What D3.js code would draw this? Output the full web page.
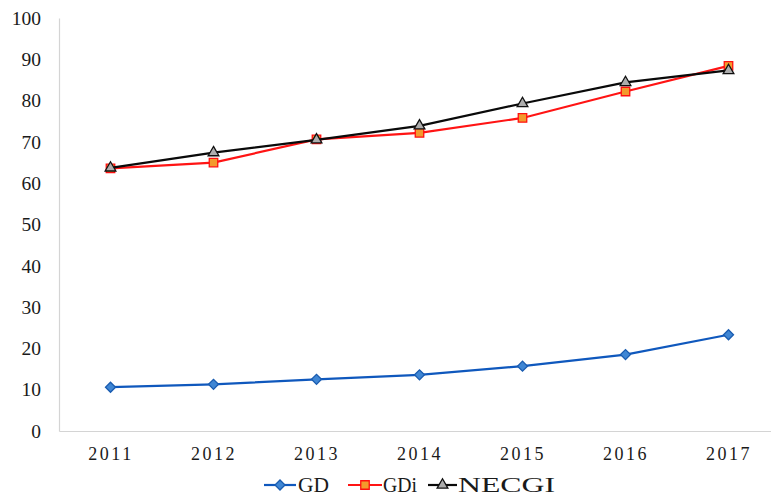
<!DOCTYPE html>
<html>
<head>
<meta charset="utf-8">
<script src="https://cdn.jsdelivr.net/npm/d3@7/dist/d3.min.js"></script>
<style>
  html, body { margin: 0; padding: 0; background: #fff; }
  svg { display: block; }
  text { font-family: "Liberation Serif", "Times New Roman", serif; fill: #1a1a1a; }
</style>
</head>
<body>
<svg id="chart" width="771" height="504"></svg>
<script>
const years = ["2011", "2012", "2013", "2014", "2015", "2016", "2017"];
const gd    = [10.6, 11.3, 12.5, 13.6, 15.7, 18.5, 23.3];
const gdi   = [63.6, 65.0, 70.6, 72.2, 75.8, 82.2, 88.4];
const necgi = [63.7, 67.4, 70.5, 73.9, 79.3, 84.4, 87.3];
const yTicks = [0, 10, 20, 30, 40, 50, 60, 70, 80, 90, 100];
const seriesNames = ["GD", "GDi", "NECGI"];

const svg = d3.select("#chart");
const x = d3.scalePoint().domain(years).range([59, 780]).padding(0.5);
const y = d3.scaleLinear().domain([0, 100]).range([431, 18]);

// Axes
const yAxis = svg.append("g").attr("transform", "translate(59,0)")
  .call(d3.axisLeft(y).tickValues(yTicks).tickSize(0).tickPadding(18).tickFormat(d3.format("d")));
yAxis.select(".domain").attr("stroke", "#d4d4d4").attr("stroke-width", 1.2);
yAxis.selectAll("text").attr("font-size", 19.5).attr("font-family", "Liberation Serif").attr("fill", "#1a1a1a");

const xAxis = svg.append("g").attr("transform", "translate(0,431)")
  .call(d3.axisBottom(x).tickSize(0).tickPadding(16));
xAxis.select(".domain").attr("stroke", "#d4d4d4").attr("stroke-width", 1.2);
xAxis.selectAll("text").attr("font-size", 18).attr("font-family", "Liberation Serif")
  .attr("letter-spacing", "2.5px").attr("fill", "#1a1a1a");

const line = d3.line().x((d, i) => x(years[i])).y(d => y(d));

const series = [
  { name: "GD", values: gd, line: "#0f58bd", fill: "#3f86d4", stroke: "#1a5cb0", sym: d3.symbolSquare, size: 50, rot: 45 },
  { name: "GDi", values: gdi, line: "#ff1414", fill: "#f39a2c", stroke: "#ff1010", sym: d3.symbolSquare, size: 72, rot: 0 },
  { name: "NECGI", values: necgi, line: "#0a0a0a", fill: "#adadad", stroke: "#111", sym: d3.symbolTriangle, size: 50, rot: 0 }
];

series.forEach(s => {
  svg.append("path").datum(s.values).attr("d", line)
    .attr("fill", "none").attr("stroke", s.line).attr("stroke-width", 2.2);
  svg.append("g").selectAll("path").data(s.values).join("path")
    .attr("transform", (d, i) => `translate(${x(years[i])},${y(d)}) rotate(${s.rot})`)
    .attr("d", d3.symbol().type(s.sym).size(s.size))
    .attr("fill", s.fill).attr("stroke", s.stroke).attr("stroke-width", 1.3);
});

// Legend
const legendItems = [
  { x0: 264, x1: 296, tx: 298, tw: 31 },
  { x0: 348, x1: 382, tx: 383, tw: 34 },
  { x0: 428, x1: 457, tx: 458, tw: 97 }
];
const lg = svg.append("g");
series.forEach((s, i) => {
  const L = legendItems[i];
  lg.append("line").attr("x1", L.x0).attr("x2", L.x1).attr("y1", 485).attr("y2", 485)
    .attr("stroke", s.line).attr("stroke-width", 2.2);
  lg.append("path").attr("transform", `translate(${(L.x0 + L.x1) / 2},485) rotate(${s.rot})`)
    .attr("d", d3.symbol().type(s.sym).size(s.size))
    .attr("fill", s.fill).attr("stroke", s.stroke).attr("stroke-width", 1.3);
  lg.append("text").attr("x", L.tx).attr("y", 492).attr("font-size", 20)
    .attr("textLength", L.tw).attr("lengthAdjust", "spacingAndGlyphs")
    .text(seriesNames[i]);
});
</script>
</body>
</html>
